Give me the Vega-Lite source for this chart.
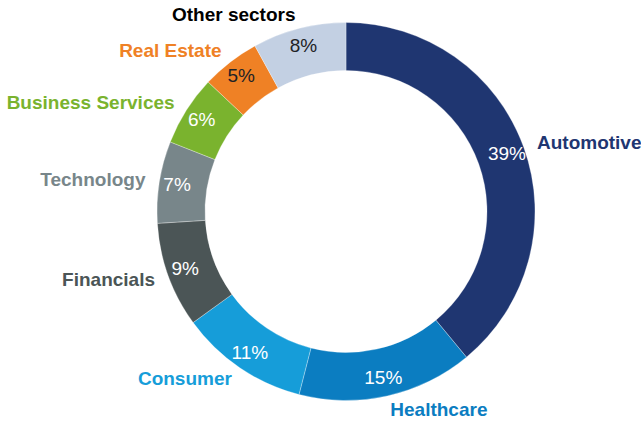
{
  "$schema": "https://vega.github.io/schema/vega-lite/v6.json",
  "width": 590,
  "height": 423,
  "autosize": {"type": "none"},
  "padding": {"left": 51, "top": 0, "right": 0, "bottom": 0},
  "background": "white",
  "config": {"view": {"stroke": null}, "font": "Liberation Sans"},
  "data": {
    "values": [
      {"idx": 1, "sector": "Automotive", "share": 0.39},
      {"idx": 2, "sector": "Healthcare", "share": 0.15},
      {"idx": 3, "sector": "Consumer", "share": 0.11},
      {"idx": 4, "sector": "Financials", "share": 0.09},
      {"idx": 5, "sector": "Technology", "share": 0.07},
      {"idx": 6, "sector": "Business Services", "share": 0.06},
      {"idx": 7, "sector": "Real Estate", "share": 0.05},
      {"idx": 8, "sector": "Other sectors", "share": 0.08}
    ]
  },
  "encoding": {
    "theta": {"field": "share", "type": "quantitative", "stack": true, "scale": {"domain": [0, 1]}},
    "order": {"field": "idx", "type": "quantitative"}
  },
  "layer": [
    {
      "mark": {"type": "arc", "innerRadius": 141, "outerRadius": 189, "stroke": "white", "strokeWidth": 0.3},
      "encoding": {
        "color": {
          "field": "sector",
          "type": "nominal",
          "legend": null,
          "scale": {
            "domain": ["Automotive", "Healthcare", "Consumer", "Financials", "Technology", "Business Services", "Real Estate", "Other sectors"],
            "range": ["#1f3671", "#0b7dc1", "#169dd9", "#4b5556", "#78868a", "#7ab32e", "#ef8125", "#c3d0e3"]
          }
        }
      }
    },
    {
      "mark": {"type": "text", "radius": 171, "fontSize": 19, "font": "Liberation Sans", "align": "center", "baseline": "middle"},
      "encoding": {
        "text": {"field": "share", "type": "quantitative", "format": ".0%"},
        "detail": {"field": "sector"},
        "color": {
          "condition": {"test": "datum.sector === 'Real Estate' || datum.sector === 'Other sectors'", "value": "#1e2226"},
          "value": "white"
        }
      }
    },
    {
      "mark": {
        "type": "text",
        "radius": 203,
        "fontSize": 19,
        "fontWeight": "bold",
        "font": "Liberation Sans",
        "baseline": "middle",
        "align": {"expr": "(datum.share_start + datum.share_end) / 2 < 0.5 ? 'left' : 'right'"}
      },
      "encoding": {
        "text": {"field": "sector", "type": "nominal"},
        "color": {
          "condition": {"test": "datum.sector === 'Other sectors'", "value": "#000000"},
          "field": "sector",
          "type": "nominal",
          "legend": null
        }
      }
    }
  ]
}
